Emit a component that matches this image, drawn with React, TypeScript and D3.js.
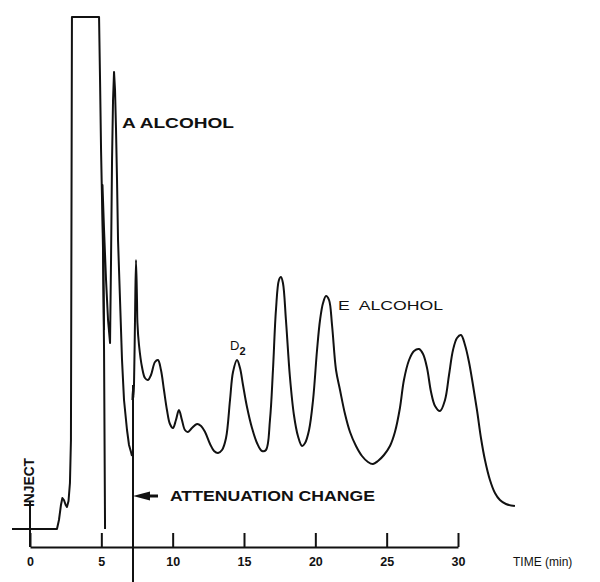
import React, { useEffect, useRef } from "react";
import * as d3 from "d3";

// Chromatogram trace: [time (min), detector signal (arb. units)]
const solventTrace: [number, number][] = [
  [-1.26, 0], [1.89, 0], [2.03, 9], [2.17, 24], [2.27, 31], [2.38, 29],
  [2.5, 24], [2.59, 22], [2.7, 28], [2.8, 46], [2.87, 89], [2.94, 512],
  [4.84, 512], [4.91, 449], [4.98, 379], [5.12, 279], [5.19, 179], [5.26, 0],
];

const earlyPeaksTrace: [number, number][] = [
  [5.19, 199], [5.08, 344], [5.19, 299], [5.33, 249], [5.47, 209], [5.61, 186],
  [5.68, 269], [5.75, 369], [5.82, 429], [5.89, 457], [5.96, 439], [6.03, 399],
  [6.1, 349], [6.17, 289], [6.31, 229], [6.45, 169], [6.59, 129], [6.8, 99],
  [6.94, 84], [7.08, 77], [7.15, 73],
];

const lateTrace: [number, number][] = [
  [7.18, 129], [7.22, 142], [7.25, 131], [7.29, 144], [7.36, 209], [7.43, 269],
  [7.5, 229], [7.53, 206], [7.64, 184], [7.85, 162], [8.06, 151], [8.27, 149],
  [8.48, 154], [8.76, 167], [8.97, 169], [9.18, 159], [9.39, 139], [9.6, 119],
  [9.81, 105], [10.02, 101], [10.23, 109], [10.44, 119], [10.65, 109], [10.86, 99],
  [11.07, 97], [11.35, 101], [11.71, 105], [11.99, 103], [12.27, 97], [12.62, 85],
  [12.9, 78], [13.18, 76], [13.46, 79], [13.74, 91], [14.02, 129], [14.23, 157],
  [14.51, 169], [14.72, 161], [14.93, 144], [15.21, 122], [15.56, 101], [15.91, 86],
  [16.26, 78], [16.54, 79], [16.82, 109], [17.03, 159], [17.24, 219], [17.45, 249],
  [17.59, 252], [17.73, 246], [17.94, 209], [18.22, 152], [18.5, 114], [18.78, 93],
  [19.07, 83], [19.28, 86], [19.56, 99], [19.84, 129], [20.12, 179], [20.33, 209],
  [20.54, 226], [20.75, 233], [20.96, 229], [21.17, 204], [21.45, 159], [21.73, 139],
  [22.08, 115], [22.43, 97], [22.85, 83], [23.27, 73], [23.69, 67], [24.04, 65],
  [24.39, 68], [24.81, 74], [25.23, 83], [25.58, 97], [25.93, 121], [26.21, 149],
  [26.57, 169], [26.92, 178], [27.27, 180], [27.55, 175], [27.83, 161], [28.11, 137],
  [28.39, 123], [28.74, 118], [29.09, 129], [29.37, 154], [29.65, 179], [29.93, 191],
  [30.21, 194], [30.49, 184], [30.77, 167], [31.05, 144], [31.33, 119], [31.61, 91],
  [31.89, 69], [32.24, 49], [32.59, 36], [32.94, 29], [33.36, 25], [33.99, 23],
];

const tickValues = [0, 5, 10, 15, 20, 25, 30];
const tickLabels = ["0", "5", "10", "15", "20", "25", "30"];

const injectTime = 0;
const injectHeight = 27;
const attenuationTime = 7.22;
const attenuationTop = 144;

// Annotations: [time, signal] anchor of each label
const peakLabels = [
  { text: "A ALCOHOL", t: 6.45, s: 401, size: 15, len: 112, weight: 700 },
  { text: "E  ALCOHOL", t: 21.59, s: 219, size: 12.5, len: 105, weight: 400 },
];
const d2Label = { t: 14.02, s: 179 };
const attenuationLabel = { text: "ATTENUATION CHANGE", t: 9.81, s: 28, len: 205 };
const arrowSignal = 33;
const axisTitle = "TIME (min)";

const W = 600;
const H = 582;
const font = "'Liberation Sans', Arial, sans-serif";
const ink = "#111";

export default function App() {
  const axisRef = useRef<SVGGElement>(null);

  const x = d3.scaleLinear().domain([0, 30]).range([30, 458]);
  const y = d3.scaleLinear().domain([0, 512]).range([529, 17]);
  const axisY = y(-18);

  const linePlain = d3
    .line<[number, number]>()
    .x((d) => x(d[0]))
    .y((d) => y(d[1]))
    .curve(d3.curveLinear);
  const lineSmooth = d3
    .line<[number, number]>()
    .x((d) => x(d[0]))
    .y((d) => y(d[1]))
    .curve(d3.curveCatmullRom.alpha(0.5));

  useEffect(() => {
    if (!axisRef.current) return;
    const g = d3.select(axisRef.current);
    g.selectAll("*").remove();
    const axis = d3
      .axisBottom(x)
      .tickValues(tickValues)
      .tickFormat((_, i) => tickLabels[i])
      .tickSizeInner(-14)
      .tickSizeOuter(0)
      .tickPadding(10);
    g.call(axis as any);
    g.select(".domain").attr("stroke", ink).attr("stroke-width", 2);
    g.selectAll(".tick line").attr("stroke", ink).attr("stroke-width", 2);
    g.selectAll(".tick text")
      .attr("fill", ink)
      .attr("font-family", font)
      .attr("font-size", 12.5)
      .attr("font-weight", 700);
  }, []);

  const ax = x(attenuationTime);
  const ay = y(arrowSignal);

  return (
    <svg
      width={W}
      height={H}
      style={{ position: "absolute", left: 0, top: 0, background: "#fff" }}
    >
      <rect width={W} height={H} fill="#fff" />
      <path d={linePlain(solventTrace) || ""} fill="none" stroke={ink} strokeWidth={2} strokeLinejoin="round" />
      <path d={linePlain(earlyPeaksTrace) || ""} fill="none" stroke={ink} strokeWidth={2} strokeLinejoin="round" />
      <path d={lineSmooth(lateTrace) || ""} fill="none" stroke={ink} strokeWidth={2} strokeLinejoin="round" />

      {/* inject mark */}
      <line x1={x(injectTime)} x2={x(injectTime)} y1={axisY} y2={y(injectHeight)} stroke={ink} strokeWidth={2} />
      <text
        transform={`translate(${x(injectTime) + 3.5},${y(injectHeight) + 5}) rotate(-90)`}
        fontFamily={font}
        fontSize={14}
        fontWeight={700}
        fill={ink}
        textLength={49}
        lengthAdjust="spacingAndGlyphs"
      >
        INJECT
      </text>

      {/* attenuation change */}
      <line x1={ax} x2={ax} y1={y(attenuationTop)} y2={H} stroke={ink} strokeWidth={2} />
      <path
        d={`M${ax},${ay} L${ax + 17},${ay - 4.5} L${ax + 17},${ay + 4.5} Z`}
        fill={ink}
      />
      <line x1={ax + 15} x2={ax + 25} y1={ay} y2={ay} stroke={ink} strokeWidth={3} />
      <text
        x={x(attenuationLabel.t)}
        y={y(attenuationLabel.s)}
        fontFamily={font}
        fontSize={14.5}
        fontWeight={700}
        fill={ink}
        textLength={attenuationLabel.len}
        lengthAdjust="spacingAndGlyphs"
      >
        {attenuationLabel.text}
      </text>

      {peakLabels.map((l) => (
        <text
          key={l.text}
          x={x(l.t)}
          y={y(l.s)}
          fontFamily={font}
          fontSize={l.size}
          fontWeight={l.weight}
          fill={ink}
          textLength={l.len}
          lengthAdjust="spacingAndGlyphs"
          style={{ whiteSpace: "pre" }}
        >
          {l.text}
        </text>
      ))}

      <text x={x(d2Label.t)} y={y(d2Label.s)} fontFamily={font} fontSize={13} fill={ink}>
        D
        <tspan dy={5} fontSize={11} fontWeight={700}>2</tspan>
      </text>

      <g ref={axisRef} transform={`translate(0,${axisY})`} />

      <text x={513} y={566} fontFamily={font} fontSize={12} fill={ink}>
        {axisTitle}
      </text>
    </svg>
  );
}
